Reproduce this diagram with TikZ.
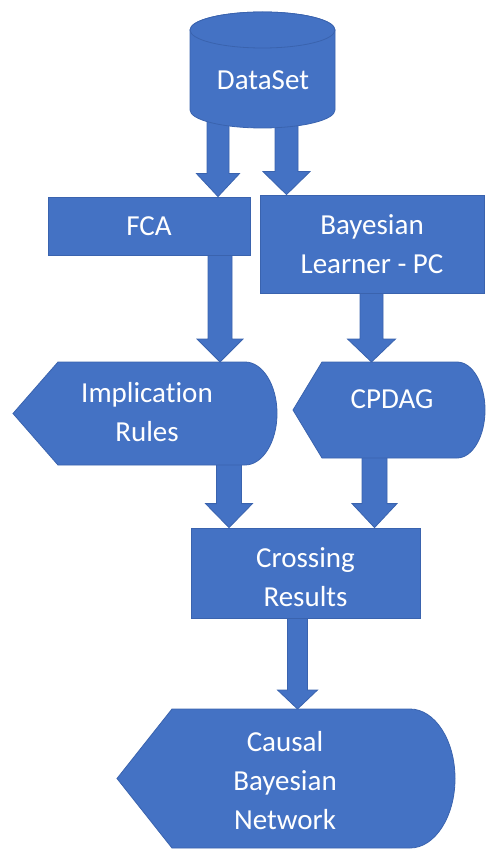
\documentclass[tikz,border=0pt]{standalone}
\usepackage{fontspec}
\setmainfont[Ligatures=NoCommon]{Carlito}
\usetikzlibrary{calc,backgrounds}
\definecolor{flowfill}{HTML}{4472C4}
\definecolor{flowedge}{HTML}{3A63AE}
\tikzset{
  flow/.style={fill=flowfill, draw=flowedge, line width=0.8pt, line join=miter},
  box/.style={flow, rectangle, inner sep=0pt, text=white, align=center,
    font=\fontsize{29}{39}\selectfont},
  txt/.style={text=white, align=center, inner sep=0pt,
    font=\fontsize{29}{39}\selectfont},
}
% block arrow: #1 start, #2 tip, #3 shaft half width, #4 head half width, #5 head length
\newcommand{\blockarrow}[5]{%
  \path[flow] let \p1=#1, \p2=#2 in
    ({\x1-#3pt},\y1) -- ({\x1-#3pt},{\y2+#5pt}) -- ({\x1-#4pt},{\y2+#5pt})
    -- (\x1,\y2) -- ({\x1+#4pt},{\y2+#5pt}) -- ({\x1+#3pt},{\y2+#5pt})
    -- ({\x1+#3pt},\y1) -- cycle;}
\begin{document}
\begin{tikzpicture}[x=1pt,y=-1pt]
\useasboundingbox (0,0) rectangle (486,850);

% DataSet cylinder
\path[flow] (190,30) -- (190,110)
  .. controls (190,119.94) and (222.46,128) .. (262.5,128)
  .. controls (302.54,128) and (335,119.94) .. (335,110) -- (335,30)
  .. controls (335,20.06) and (302.54,12) .. (262.5,12)
  .. controls (222.46,12) and (190,20.06) .. (190,30) -- cycle;
\path[flow] (262.5,30) ellipse [x radius=72.5, y radius=18];
\coordinate (dbody) at (262.5,110);
\node[txt] (data) at (263,80) {DataSet};

% process boxes
\node[box, minimum width=202pt, minimum height=58pt] (fca) at (149,226) {FCA};
\node[box, minimum width=224pt, minimum height=98pt] (pc) at (372,244) {Bayesian\\Learner - PC};
\node[box, minimum width=229pt, minimum height=90pt] (cross) at (305.5,573) {};
\node[txt] (crosstext) at (305.5,577) {Crossing\\Results};

% display shapes
\path[flow] (58,362) -- (245,362)
  .. controls (262.67,362) and (277,385.06) .. (277,413.5)
  .. controls (277,441.94) and (262.67,465) .. (245,465)
  -- (58,465) -- (13,413.5) -- cycle;
\coordinate (impl-n) at (145,362);
\node[txt] (impl) at (147,412) {Implication\\Rules};

\path[flow] (322,362) -- (457,362)
  .. controls (472.46,362) and (485,383.49) .. (485,410)
  .. controls (485,436.51) and (472.46,458) .. (457,458)
  -- (322,458) -- (293,410) -- cycle;
\coordinate (cpdag-n) at (390,362);
\node[txt] (cpdag) at (392,399) {CPDAG};

\path[flow] (172,709) -- (410,709)
  .. controls (434.85,709) and (455,740.12) .. (455,778.5)
  .. controls (455,816.88) and (434.85,848) .. (410,848)
  -- (172,848) -- (117,778.5) -- cycle;
\coordinate (causal-n) at (285,709);
\node[txt] (causal) at (285,781) {Causal\\Bayesian\\Network};

% block arrows
\begin{pgfonlayer}{background}
\blockarrow{(218,0 |- dbody)}{(218,0 |- fca.north)}{11}{21.5}{23}
\blockarrow{(286.5,0 |- dbody)}{(286.5,0 |- pc.north)}{11.5}{23.5}{23}
\blockarrow{(220,0 |- fca.center)}{(220,0 |- impl-n)}{12}{23}{23}
\blockarrow{(371.5,0 |- pc.center)}{(371.5,0 |- cpdag-n)}{11.5}{24}{23}
\blockarrow{(229,0 |- impl)}{(229,0 |- cross.north)}{12.5}{23.5}{24}
\blockarrow{(374.5,0 |- cpdag)}{(374.5,0 |- cross.north)}{12.5}{22.5}{24}
\blockarrow{(297.5,0 |- cross)}{(297.5,0 |- causal-n)}{10}{20}{19}
\end{pgfonlayer}
\end{tikzpicture}
\end{document}
